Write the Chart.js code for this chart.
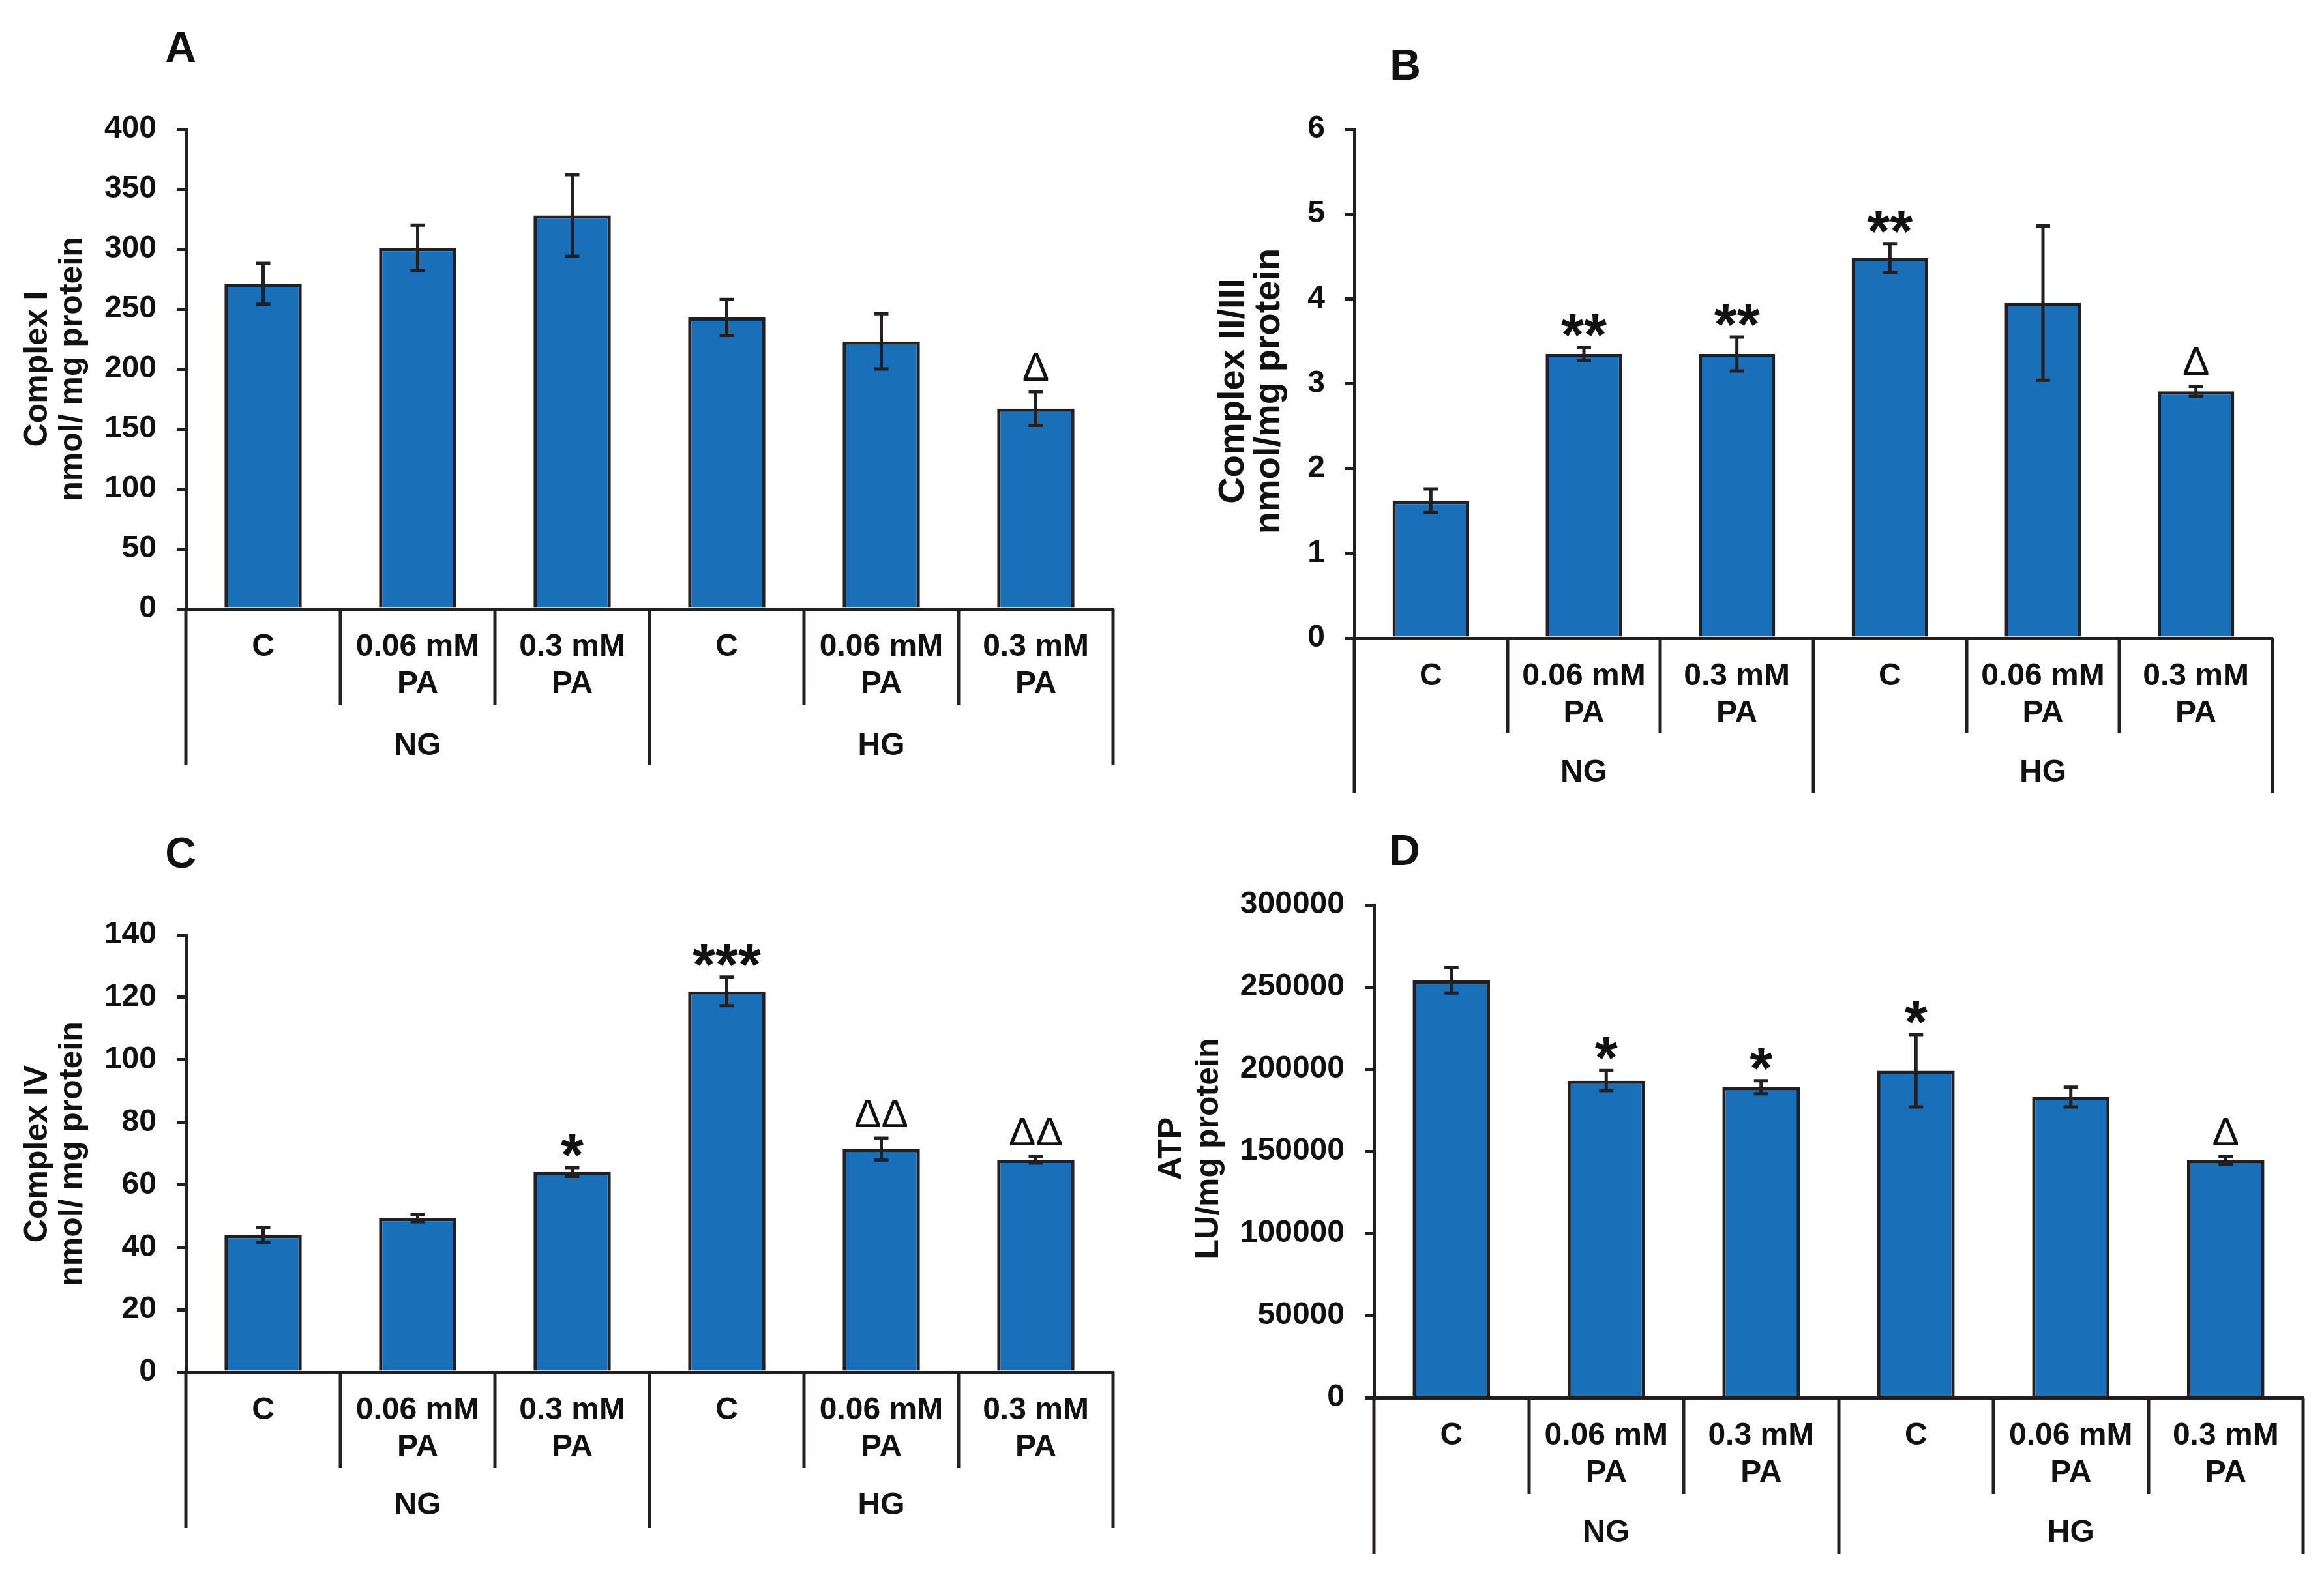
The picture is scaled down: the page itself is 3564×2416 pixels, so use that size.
<!DOCTYPE html>
<html>
<head>
<meta charset="utf-8">
<script src="https://cdn.jsdelivr.net/npm/chart.js@4.4.0/dist/chart.umd.min.js"></script>
<style>
html,body{margin:0;padding:0;background:#fff;width:3564px;height:2416px;overflow:hidden}
canvas{position:absolute;left:0;top:0}
</style>
</head>
<body>
<canvas id="cA" width="3564" height="2416"></canvas>
<canvas id="cB" width="3564" height="2416"></canvas>
<canvas id="cC" width="3564" height="2416"></canvas>
<canvas id="cD" width="3564" height="2416"></canvas>
<script>
// ---------- data ----------
const categories = [['C'], ['0.06 mM', 'PA'], ['0.3 mM', 'PA'], ['C'], ['0.06 mM', 'PA'], ['0.3 mM', 'PA']];
const groups = ['NG', 'HG'];

const complexI = [271, 301, 328, 243, 223, 167];
const complexIErr = [17, 19, 34, 15, 23, 14];
const complexIMarks = ['', '', '', '', '', 'Δ'];

const complexIIIII = [1.62, 3.35, 3.35, 4.48, 3.95, 2.91];
const complexIIIIIErr = [0.14, 0.08, 0.20, 0.17, 0.91, 0.06];
const complexIIIIIMarks = ['', '**', '**', '**', '', 'Δ'];

const complexIV = [43.9, 49.4, 64.1, 121.9, 71.4, 68.0];
const complexIVErr = [2.3, 1.2, 1.4, 4.6, 3.5, 1.0];
const complexIVMarks = ['', '', '*', '***', 'ΔΔ', 'ΔΔ'];

const atp = [254000, 193000, 189000, 199000, 183000, 144500];
const atpErr = [7700, 6100, 4000, 22000, 6000, 2500];
const atpMarks = ['', '*', '*', '*', '', 'Δ'];

// ---------- style ----------
const W = 3564, H = 2416;
const FONT = "'Liberation Sans', Arial, Helvetica, sans-serif";
const BAR = '#1a70b8';
const EDGE = '#231f20';
const TXT = '#111111';
const LW = 5;

const panels = [
  { id: 'cA', letter: 'A', letterX: 277, letterY: 77, values: complexI, errors: complexIErr, marks: complexIMarks,
    max: 400, step: 50, title: ['Complex I', 'nmol/ mg protein'], titleSize: 50, titleX: 58, titleGap: 53, titleY: 566,
    regionLeft: 0, axisX: 285, top: 198, zero: 934, right: 1707, shortBottom: 1082, longBottom: 1174, groupY: 1145 },
  { id: 'cB', letter: 'B', letterX: 2155, letterY: 104, values: complexIIIII, errors: complexIIIIIErr, marks: complexIIIIIMarks,
    max: 6, step: 1, title: ['Complex II/III', 'nmol/mg protein'], titleSize: 56, titleX: 1892, titleGap: 55, titleY: 600,
    regionLeft: 1790, axisX: 2077, top: 198, zero: 979, right: 3485, shortBottom: 1124, longBottom: 1216, groupY: 1186 },
  { id: 'cC', letter: 'C', letterX: 277, letterY: 1313, values: complexIV, errors: complexIVErr, marks: complexIVMarks,
    max: 140, step: 20, title: ['Complex IV', 'nmol/ mg protein'], titleSize: 50, titleX: 58, titleGap: 53, titleY: 1770,
    regionLeft: 0, axisX: 285, top: 1434, zero: 2105, right: 1707, shortBottom: 2252, longBottom: 2344, groupY: 2310 },
  { id: 'cD', letter: 'D', letterX: 2154, letterY: 1309, values: atp, errors: atpErr, marks: atpMarks,
    max: 300000, step: 50000, title: ['ATP', 'LU/mg protein'], titleSize: 50, titleX: 1797, titleGap: 57, titleY: 1762,
    regionLeft: 1760, axisX: 2107, top: 1388, zero: 2144, right: 3532, shortBottom: 2292, longBottom: 2384, groupY: 2352 }
];

const TICK_FONT = { family: FONT, size: 48, weight: 'bold', lineHeight: 1.19 };

function drawVisualCentered(ctx, text, x, cy) {
  const m = ctx.measureText(text);
  const asc = m.actualBoundingBoxAscent, desc = m.actualBoundingBoxDescent;
  const baseline = cy + (asc - desc) / 2;
  ctx.textBaseline = 'alphabetic';
  ctx.fillText(text, x, baseline);
}

function panelPlugin(p) {
  return {
    id: 'panelDecor' + p.letter,
    afterDatasetsDraw(chart) {
      const ctx = chart.ctx;
      const xs = chart.scales.x, ys = chart.scales.y;
      ctx.save();
      // error bars
      ctx.strokeStyle = EDGE;
      ctx.lineWidth = LW;
      ctx.lineCap = 'butt';
      p.values.forEach((v, i) => {
        const x = xs.getPixelForValue(i);
        const yT = ys.getPixelForValue(v + p.errors[i]);
        const yB = ys.getPixelForValue(v - p.errors[i]);
        ctx.beginPath();
        ctx.moveTo(x, yT); ctx.lineTo(x, yB);
        ctx.moveTo(x - 11, yT); ctx.lineTo(x + 11, yT);
        ctx.moveTo(x - 11, yB); ctx.lineTo(x + 11, yB);
        ctx.stroke();
      });
      // significance marks
      ctx.fillStyle = TXT;
      ctx.textAlign = 'center';
      p.marks.forEach((mk, i) => {
        if (!mk) return;
        const x = xs.getPixelForValue(i);
        const yT = ys.getPixelForValue(p.values[i] + p.errors[i]);
        if (mk.indexOf('*') >= 0) {
          ctx.font = 'bold 90px ' + FONT;
          drawVisualCentered(ctx, mk, x, yT - 34);
        } else {
          ctx.font = 'normal 62px ' + FONT;
          drawVisualCentered(ctx, mk, x, yT - 38);
        }
      });
      ctx.restore();
    },
    afterDraw(chart) {
      const ctx = chart.ctx;
      const xs = chart.scales.x;
      const n = categories.length;
      const cw = (xs.right - xs.left) / n;
      ctx.save();
      ctx.strokeStyle = EDGE;
      ctx.lineWidth = LW;
      ctx.lineCap = 'butt';
      for (let i = 0; i <= n; i++) {
        const bx = Math.round(xs.left + i * cw);
        const isLong = (i === 0 || i === n || i === n / 2);
        ctx.beginPath();
        ctx.moveTo(bx, p.zero);
        ctx.lineTo(bx, isLong ? p.longBottom : p.shortBottom);
        ctx.stroke();
      }
      // group labels
      ctx.fillStyle = TXT;
      ctx.font = 'bold 48px ' + FONT;
      ctx.textAlign = 'center';
      ctx.textBaseline = 'middle';
      groups.forEach((g, gi) => {
        const gx = xs.left + (gi * 3 + 1.5) * cw;
        ctx.fillText(g, gx, p.groupY);
      });
      // y-axis title (two rotated lines)
      ctx.font = 'bold ' + p.titleSize + 'px ' + FONT;
      p.title.forEach((line, li) => {
        ctx.save();
        ctx.translate(p.titleX + li * p.titleGap, p.titleY);
        ctx.rotate(-Math.PI / 2);
        ctx.textAlign = 'center';
        ctx.textBaseline = 'middle';
        ctx.fillText(line, 0, 0);
        ctx.restore();
      });
      // panel letter
      ctx.font = 'bold 66px ' + FONT;
      ctx.textAlign = 'center';
      ctx.textBaseline = 'middle';
      ctx.fillText(p.letter, p.letterX, p.letterY);
      ctx.restore();
    }
  };
}

function makePanel(p) {
  new Chart(document.getElementById(p.id), {
    type: 'bar',
    data: {
      labels: categories,
      datasets: [{
        data: p.values,
        backgroundColor: BAR,
        borderColor: EDGE,
        borderWidth: LW,
        borderSkipped: 'start',
        barPercentage: 0.5,
        categoryPercentage: 1.0
      }]
    },
    options: {
      responsive: false,
      animation: false,
      devicePixelRatio: 1,
      layout: { padding: { left: p.regionLeft, top: p.top, right: W - p.right, bottom: H - p.longBottom } },
      plugins: { legend: { display: false }, tooltip: { enabled: false }, title: { display: false } },
      scales: {
        x: {
          type: 'category',
          offset: true,
          grid: { display: false, drawTicks: false },
          border: { display: true, width: LW, color: EDGE },
          ticks: { color: TXT, font: TICK_FONT, padding: 30, maxRotation: 0, minRotation: 0, autoSkip: false },
          afterFit: (s) => { s.height = p.longBottom - p.zero; }
        },
        y: {
          min: 0,
          max: p.max,
          ticks: { stepSize: p.step, color: TXT, font: TICK_FONT, padding: 31, callback: (v) => String(v) },
          grid: { display: true, drawOnChartArea: false, drawTicks: true, tickLength: 14, lineWidth: LW, color: EDGE },
          border: { display: true, width: LW, color: EDGE },
          title: { display: false },
          afterFit: (s) => { s.width = p.axisX - p.regionLeft; }
        }
      }
    },
    plugins: [panelPlugin(p)]
  });
}

panels.forEach(makePanel);
</script>
</body>
</html>
